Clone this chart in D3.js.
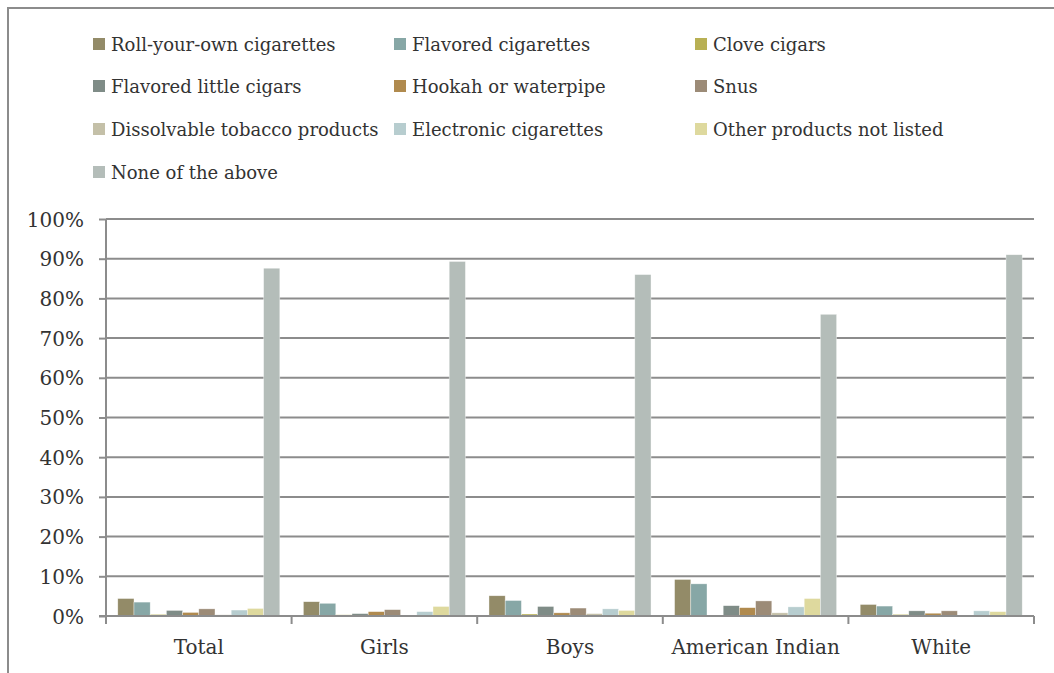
<!DOCTYPE html>
<html><head><meta charset="utf-8">
<script src="https://cdn.jsdelivr.net/npm/d3@7"></script>
<style>
html,body{margin:0;padding:0;background:#fff;}
</style></head>
<body><svg id="c" width="1054" height="673"></svg>
<script>
const categories = ["Total","Girls","Boys","American Indian","White"];
const seriesNames = ["Roll-your-own cigarettes","Flavored cigarettes","Clove cigars","Flavored little cigars","Hookah or waterpipe","Snus","Dissolvable tobacco products","Electronic cigarettes","Other products not listed","None of the above"];
const seriesColors = ["#938b68","#87a7a6","#b8b054","#7f8c87","#b08a4e","#9c8b77","#c4c0a8","#b7cdcf","#ded99e","#b4bdb9"];
// values in percent, one array per category, in series order
const totalVals = [4.4,3.5,0.4,1.4,0.9,1.8,0.3,1.5,1.9,87.6];
const girlsVals = [3.6,3.2,0.3,0.6,1.1,1.6,0.1,1.1,2.4,89.3];
const boysVals  = [5.1,3.9,0.5,2.4,0.8,2.0,0.6,1.8,1.4,86.0];
const aiVals    = [9.2,8.1,0.0,2.6,2.1,3.8,0.8,2.3,4.4,76.0];
const whiteVals = [2.9,2.5,0.4,1.3,0.7,1.3,0.1,1.3,1.1,91.0];
const values = [totalVals,girlsVals,boysVals,aiVals,whiteVals];
const yTicks = [0,10,20,30,40,50,60,70,80,90,100];

const FONT = "DejaVu Serif";
const svg = d3.select("#c");
const L=106, R=1034, T=219, B=616;
const grey="#8c8c8c";

svg.append("path").attr("d","M8,673 L8,8 L1054,8").attr("fill","none").attr("stroke",grey).attr("stroke-width",2);

const y = d3.scaleLinear().domain([0,100]).range([B,T]);
const x0 = d3.scaleBand().domain(categories).range([L,R]).paddingInner(0.127).paddingOuter(0.0635);
const x1 = d3.scaleBand().domain(seriesNames).range([0,x0.bandwidth()]).padding(0);

svg.append("g").selectAll("line").data(yTicks.filter(d=>d>0)).join("line")
  .attr("x1",L).attr("x2",R).attr("y1",d=>y(d)).attr("y2",d=>y(d))
  .attr("stroke",grey).attr("stroke-width",2);

const g = svg.append("g");
categories.forEach((c,ci)=>{
  g.append("g").attr("transform",`translate(${x0(c)},0)`)
   .selectAll("rect").data(values[ci].map((v,i)=>({v,i}))).join("rect")
   .attr("x",d=>x1(seriesNames[d.i])).attr("width",x1.bandwidth())
   .attr("y",d=>y(d.v)).attr("height",d=>B-y(d.v))
   .attr("fill",d=>seriesColors[d.i]).attr("stroke","#fff").attr("stroke-width",0.6).attr("stroke-opacity",0.6);
});

const yAxis = d3.axisLeft(y).tickValues(yTicks).tickFormat(d=>d+"%").tickSize(7).tickPadding(15);
const ya = svg.append("g").attr("transform",`translate(${L},0)`).call(yAxis);
ya.attr("font-family",FONT).attr("font-size",20);
ya.selectAll("path,line").attr("stroke",grey).attr("stroke-width",2);
ya.select(".domain").attr("d",`M0,${T}V${B}`);
ya.selectAll("text").attr("fill","#333").attr("dy","0.35em");

const bounds = d3.range(categories.length+1).map(i=>L+i*(R-L)/categories.length);
svg.append("line").attr("x1",L-7).attr("x2",R).attr("y1",B).attr("y2",B).attr("stroke",grey).attr("stroke-width",2);
svg.append("g").selectAll("line").data(bounds).join("line")
  .attr("x1",d=>d).attr("x2",d=>d).attr("y1",B).attr("y2",B+8).attr("stroke",grey).attr("stroke-width",2);
svg.append("g").attr("font-family",FONT).attr("font-size",20).attr("fill","#333")
  .selectAll("text").data(categories).join("text")
  .attr("x",d=>x0(d)+x0.bandwidth()/2).attr("y",654).attr("text-anchor","middle").text(d=>d);

const legX=[93,394,695], legY=[44,86,129,172];
const lg = svg.append("g").attr("font-family",FONT).attr("font-size",18).attr("fill","#333");
seriesNames.forEach((s,i)=>{
  const cx=legX[i%3], cy=legY[Math.floor(i/3)];
  lg.append("rect").attr("x",cx).attr("y",cy-6).attr("width",12).attr("height",12).attr("fill",seriesColors[i]);
  lg.append("text").attr("x",cx+18).attr("y",cy+7).text(s);
});
</script></body></html>
